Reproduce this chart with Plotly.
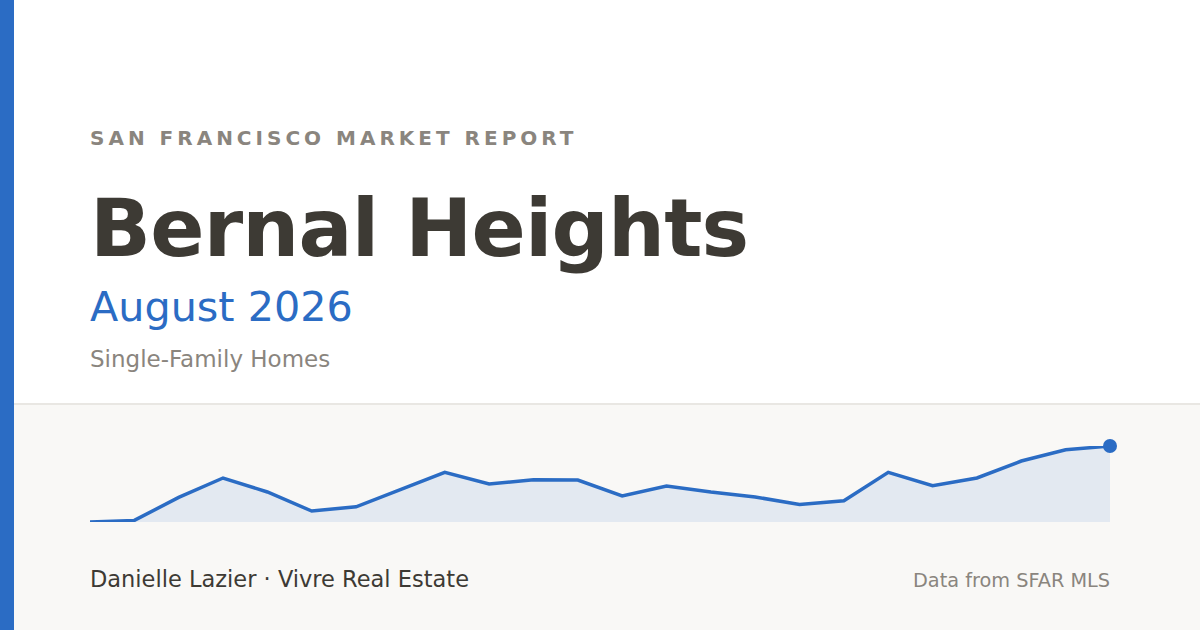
import plotly.graph_objects as go

# monthly median sale price, $K
months = ["2024-09", "2024-10", "2024-11", "2024-12", "2025-01", "2025-02",
          "2025-03", "2025-04", "2025-05", "2025-06", "2025-07", "2025-08",
          "2025-09", "2025-10", "2025-11", "2025-12", "2026-01", "2026-02",
          "2026-03", "2026-04", "2026-05", "2026-06", "2026-07", "2026-08"]
median_price = [1502, 1510, 1625, 1722, 1652, 1557, 1578, 1665, 1750, 1692, 1713, 1712,
                1632, 1682, 1652, 1627, 1590, 1608, 1750, 1683, 1722, 1807, 1863, 1882]

eyebrow = "SAN FRANCISCO MARKET REPORT"
neighborhood = "Bernal Heights"
period = "August 2026"
segment = "Single-Family Homes"
agent = "Danielle Lazier · Vivre Real Estate"
source = "Data from SFAR MLS"

BLUE = "#2b6cc4"
DARK = "#3d3a34"
GREY = "#8a857e"
W, H = 1200, 630
FONT = "DejaVu Sans"

lo, hi = min(median_price), max(median_price)

fig = go.Figure()

# invisible floor so the area fills down to the lowest month only
fig.add_trace(go.Scatter(
    x=months, y=[lo] * len(months), mode="lines",
    line=dict(width=0), hoverinfo="skip", cliponaxis=False
))
fig.add_trace(go.Scatter(
    x=months, y=median_price, mode="lines",
    line=dict(color=BLUE, width=3.5),
    fill="tonexty", fillcolor="rgba(43,108,196,0.10)",
    cliponaxis=False
))
# last month marker
fig.add_trace(go.Scatter(
    x=months[-1:], y=median_price[-1:], mode="markers",
    marker=dict(color=BLUE, size=14), cliponaxis=False
))

def px(x, y):
    return x / W, 1 - y / H

shapes = [
    # bottom panel + divider
    dict(type="rect", xref="paper", yref="paper", x0=0, x1=1, y0=0, y1=1 - 404 / H,
         fillcolor="#f9f8f6", line=dict(width=0), layer="below"),
    dict(type="line", xref="paper", yref="paper", x0=0, x1=1, y0=1 - 404 / H, y1=1 - 404 / H,
         line=dict(color="#e9e7e3", width=2), layer="below"),
    # accent bar on the left
    dict(type="rect", xref="paper", yref="paper", x0=0, x1=14 / W, y0=0, y1=1,
         fillcolor=BLUE, line=dict(width=0)),
]

def note(text, x, y, size, color, anchor="left", bold=False, spacing=None):
    t = f"<b>{text}</b>" if bold else text
    if spacing:
        t = f'<span style="letter-spacing:{spacing}">{t}</span>'
    # annotations carry ~2px of padding, pull them back onto the 90/1110 guides
    x = x - 2 if anchor == "left" else x + 2
    ax, ay = px(x, y)
    return dict(text=t, x=ax, y=ay, xref="paper", yref="paper",
                xanchor=anchor, yanchor="middle", showarrow=False,
                font=dict(family=FONT, size=size, color=color))

annotations = [
    note(eyebrow, 90, 138, 20, GREY, bold=True, spacing="0.2em"),
    note(neighborhood, 90, 228, 80, DARK, bold=True, spacing="-0.01em"),
    note(period, 90, 307, 41.3, BLUE),
    note(segment, 90, 359, 23, GREY),
    note(agent, 90, 579, 22.5, DARK),
    note(source, 1110, 580, 19.3, GREY, anchor="right"),
]

fig.update_layout(
    width=W, height=H,
    margin=dict(l=0, r=0, t=0, b=0),
    paper_bgcolor="white", plot_bgcolor="rgba(0,0,0,0)",
    showlegend=False,
    shapes=shapes, annotations=annotations,
    # months evenly spaced, first and last on the plot edges
    xaxis=dict(type="category", domain=[90 / W, 1110 / W], range=[0, len(months) - 1],
               visible=False, showgrid=False, zeroline=False),
    yaxis=dict(domain=[1 - 522 / H, 1 - 446 / H], range=[lo, hi],
               visible=False, showgrid=False, zeroline=False),
)

# drop the browser's default page margin so the card sits at 0,0
fig.write_html("out.html", config={"displayModeBar": False},
               post_script="document.body.style.margin='0';")
